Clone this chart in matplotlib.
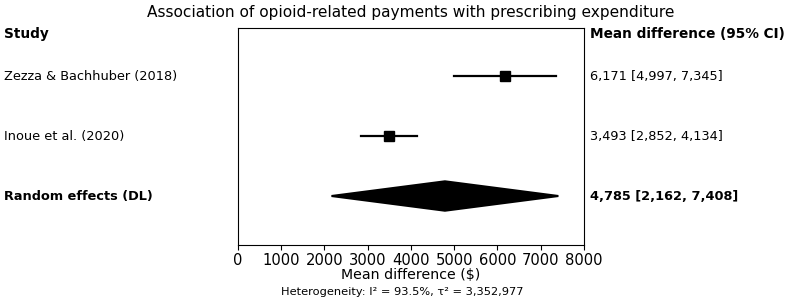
import matplotlib
matplotlib.use("Agg")
import matplotlib.pyplot as plt
from matplotlib.patches import Polygon

studies = ["Zezza & Bachhuber (2018)", "Inoue et al. (2020)"]
est = [6171, 3493]
lo = [4997, 2852]
hi = [7345, 4134]
pooled_label = "Random effects (DL)"
pooled = 4785
pooled_lo = 2162
pooled_hi = 7408
title = "Association of opioid-related payments with prescribing expenditure"
het_text = "Heterogeneity: I² = 93.5%, τ² = 3,352,977"

fig = plt.figure(figsize=(7.94, 3.0), dpi=100)
ax = fig.add_axes([0.2997, 0.1833, 0.4358, 0.7233])

ys = [2, 1]
for y, e, l, h in zip(ys, est, lo, hi):
    ax.plot([l, h], [y, y], color="black", lw=1.6)
    ax.plot([e], [y], marker="s", color="black", ms=7.5)

dh = 0.245
diamond = Polygon([[pooled_lo, 0], [pooled, dh], [pooled_hi, 0], [pooled, -dh]],
                  closed=True, facecolor="black", edgecolor="black", lw=1.5,
                  joinstyle="miter")
ax.add_patch(diamond)

ax.set_xlim(0, 8000)
ax.set_ylim(-0.8167, 2.8)
ax.set_yticks([])
ax.set_xticks(range(0, 8001, 1000))
ax.tick_params(axis="x", labelsize=10.6, pad=2)
ax.set_xlabel("Mean difference ($)", fontsize=10.2, labelpad=0.5)

fs = 9.3
lx = 4/794
rx = 590/794
fig.text(lx, 1 - 34/300, "Study", fontsize=9.8, fontweight="bold", va="center", ha="left")
fig.text(rx, 1 - 34/300, "Mean difference (95% CI)", fontsize=9.8, fontweight="bold", va="center", ha="left")
for y, s, e, l, h in zip(ys, studies, est, lo, hi):
    ax.annotate(s, xy=(lx, y), xycoords=(fig.transFigure, "data"), fontsize=fs, va="center", ha="left")
    ax.annotate(f"{e:,} [{l:,}, {h:,}]", xy=(rx, y), xycoords=(fig.transFigure, "data"),
                fontsize=fs, va="center", ha="left")
ax.annotate(pooled_label, xy=(lx, 0), xycoords=(fig.transFigure, "data"),
            fontsize=fs, fontweight="bold", va="center", ha="left")
ax.annotate(f"{pooled:,} [{pooled_lo:,}, {pooled_hi:,}]", xy=(rx, 0), xycoords=(fig.transFigure, "data"),
            fontsize=fs, fontweight="bold", va="center", ha="left")

fig.text(411/794, 1 - 12/300, title, fontsize=11.1, ha="center", va="center")
fig.text(402/794, 1 - 292/300, het_text, fontsize=8.2, ha="center", va="center")

fig.savefig("out.png", dpi=100)
